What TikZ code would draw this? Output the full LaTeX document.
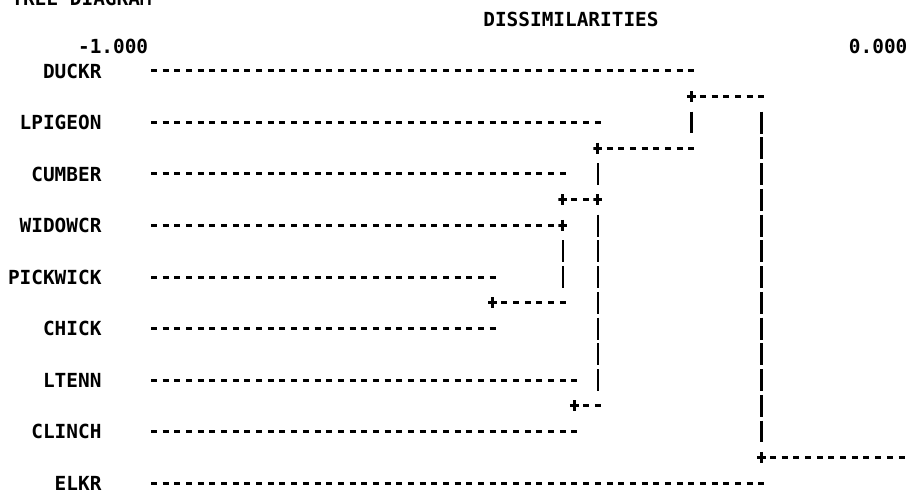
\documentclass[tikz,border=0pt]{standalone}
\usepackage{fontspec}
\newfontfamily\lpfont{DejaVu Sans Mono}
\usetikzlibrary{calc}
\begin{document}
\begin{tikzpicture}[x=11.68pt,y=-25.75pt,shift={(154pt,-71pt)},
  lbl/.style={font=\lpfont\bfseries\fontsize{19.4pt}{20pt}\selectfont, inner sep=0pt, outer sep=0pt, text=black},
  hd/.style={line width=3pt, dash pattern=on 6pt off 5.68pt, shorten <=-3pt, shorten >=-3pt},
  vd/.style={line width=2.6pt, dash pattern=on 22pt off 3.75pt},
  plus/.style={inner sep=0pt, outer sep=0pt, minimum width=9pt, minimum height=11pt,
    path picture={\draw[line width=2.8pt] (path picture bounding box.north) -- (path picture bounding box.south)
      (path picture bounding box.west) -- (path picture bounding box.east);}}]
\useasboundingbox[fill=white] (-154pt,71pt) rectangle (766pt,-423pt);

% header
\node[lbl, anchor=west] (title) at (-12.2,-2.83) {TREE DIAGRAM};
\node[lbl, anchor=west] (dis) at (28.2,-2) {DISSIMILARITIES};
\node[lbl, anchor=east] (lo) at (-0.5,-0.95) {-1.000};
\node[lbl, anchor=east] (hi) at (64.5,-0.95) {0.000};

% labels
\node[lbl, anchor=east] (duckr) at (-4.5,0) {DUCKR};
\node[lbl, anchor=east] (lpigeon) at (-4.5,2) {LPIGEON};
\node[lbl, anchor=east] (cumber) at (-4.5,4) {CUMBER};
\node[lbl, anchor=east] (widowcr) at (-4.5,6) {WIDOWCR};
\node[lbl, anchor=east] (pickwick) at (-4.5,8) {PICKWICK};
\node[lbl, anchor=east] (chick) at (-4.5,10) {CHICK};
\node[lbl, anchor=east] (ltenn) at (-4.5,12) {LTENN};
\node[lbl, anchor=east] (clinch) at (-4.5,14) {CLINCH};
\node[lbl, anchor=east] (elkr) at (-4.5,16) {ELKR};

% joins
\node[plus] (p1) at (46,1) {};
\node[plus] (p3) at (38,3) {};
\node[plus] (p5a) at (35,5) {};
\node[plus] (p5b) at (38,5) {};
\node[plus] (p6) at (35,6) {};
\node[plus] (p9) at (29,9) {};
\node[plus] (p13) at (36,13) {};
\node[plus] (p15) at (52,15) {};

% line ends
\coordinate (s0) at (0,0);   \coordinate (e0) at (46,0);
\coordinate (e1) at (52,1);
\coordinate (s2) at (0,2);   \coordinate (e2) at (38,2);
\coordinate (e3) at (46,3);
\coordinate (s4) at (0,4);   \coordinate (e4) at (35,4);
\coordinate (s6) at (0,6);
\coordinate (s8) at (0,8);   \coordinate (e8) at (29,8);
\coordinate (e9) at (35,9);
\coordinate (s10) at (0,10); \coordinate (e10) at (29,10);
\coordinate (s12) at (0,12); \coordinate (e12) at (36,12);
\coordinate (e13) at (38,13);
\coordinate (s14) at (0,14); \coordinate (e14) at (36,14);
\coordinate (e15) at (64,15);
\coordinate (s16) at (0,16); \coordinate (e16) at (52,16);

% horizontal runs
\draw[hd] (s0) -- (e0);
\draw[hd] (p1.center) -- (e1);
\draw[hd] (s2) -- (e2);
\draw[hd] (p3.center) -- (e3);
\draw[hd] (s4) -- (e4);
\draw[hd] (p5a.center) -- (p5b.center);
\draw[hd] (s6) -- (p6.center);
\draw[hd] (s8) -- (e8);
\draw[hd] (p9.center) -- (e9);
\draw[hd] (s10) -- (e10);
\draw[hd] (s12) -- (e12);
\draw[hd] (p13.center) -- (e13);
\draw[hd] (s14) -- (e14);
\draw[hd] (p15.center) -- (e15);
\draw[hd] (s16) -- (e16);

% vertical runs
\draw[vd] ($(p1)+(0,0.573)$) -- ($(e3)+(0,-0.573)$);
\draw[vd] ($(e1)+(0,0.573)$) -- ($(p15)+(0,-0.573)$);
\draw[vd] ($(p3)+(0,0.573)$) -- ($(p5b)+(0,-0.573)$);
\draw[vd] ($(p5b)+(0,0.573)$) -- ($(e13)+(0,-0.573)$);
\draw[vd] ($(p6)+(0,0.573)$) -- ($(e9)+(0,-0.573)$);
\end{tikzpicture}
\end{document}
